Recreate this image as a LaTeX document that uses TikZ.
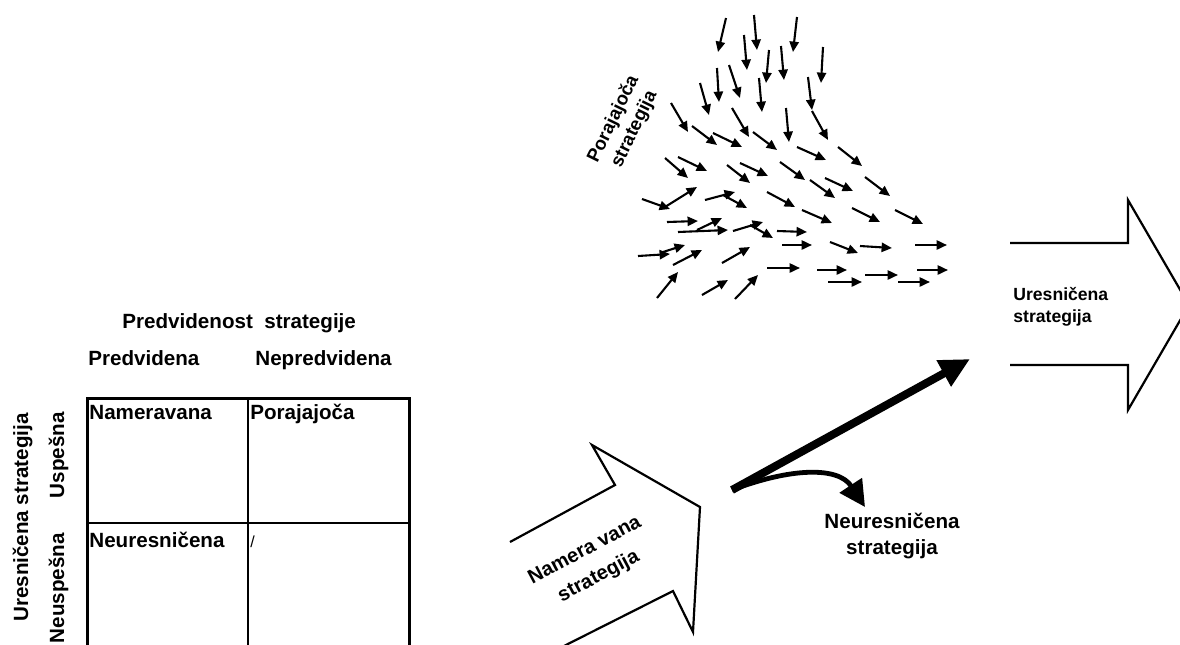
\documentclass[tikz,border=0pt]{standalone}
\usepackage{fontspec}
\setmainfont{Liberation Sans}
\usetikzlibrary{arrows.meta}

\tikzset{
  lbl/.style={font=\fontsize{10.3}{13}\selectfont\bfseries, inner sep=0pt},
  lblsmall/.style={font=\fontsize{8.8}{11}\selectfont\bfseries, inner sep=0pt},
  fieldarrow/.style={line width=1.05pt, -{Triangle[length=5.2pt,width=4.6pt]}},
  blockarrow/.style={line width=1.1pt, line join=miter},
  gridouter/.style={line width=1.5pt},
  gridinner/.style={line width=0.7pt},
  mainflow/.style={line width=4pt, -{Triangle[length=15pt,width=14pt]}},
  sideflow/.style={line width=2.4pt, -{Triangle[length=13pt,width=13pt]}},
}

\begin{document}
\begin{tikzpicture}[x=0.5pt,y=-0.5pt]
\clip (0,0) rectangle (1180,644);
\fill[white] (0,0) rectangle (1180,644);

% ---- 2x2 matrix of strategy types ----
\draw[gridouter] (87,700) -- (87,398) -- (409,398) -- (409,700);
\draw[gridinner] (248,398) -- (248,700);
\draw[gridinner] (87,523) -- (409,523);

\node[lbl, anchor=base west] (colhead) at (122,328) {Predvidenost\ \ strategije};
\node[lbl, anchor=base west] (colA) at (88,365) {Predvidena};
\node[lbl, anchor=base west] (colB) at (255,365) {Nepredvidena};

\node[lbl, anchor=base east, rotate=90] (rowhead) at (28,413) {Uresničena strategija};
\node[lbl, anchor=base east, rotate=90] (rowA) at (64,412) {Uspešna};
\node[lbl, anchor=base east, rotate=90] (rowB) at (64,533) {Neuspešna};

\node[lbl, anchor=base west] (cellAA) at (89,419) {Nameravana};
\node[lbl, anchor=base west] (cellAB) at (250,419) {Porajajoča};
\node[lbl, anchor=base west] (cellBA) at (89,547) {Neuresničena};
\node[font=\fontsize{8}{9}\selectfont, inner sep=0pt, anchor=base west] (cellBB) at (250,547) {/};

% ---- intended strategy block arrow ----
\draw[blockarrow] (510,542) -- (615,485) -- (592,445) -- (700,507)
  -- (693,632) -- (673,591) -- (560,648);
\node[lbl, font=\fontsize{10}{14.8}\selectfont\bfseries, rotate=28, align=center]
  (intended) at (592,564) {Namera vana\\strategija};

% ---- realized strategy block arrow ----
\draw[blockarrow] (1010,243) -- (1128,243) -- (1128,200) -- (1189,305)
  -- (1128,410) -- (1128,365) -- (1010,365);
\node[lblsmall, align=left, anchor=west] (realized) at (1013,307)
  {Uresničena\\strategija};

% ---- split into realized and unrealized paths ----
\coordinate (split) at (732,490);
\coordinate (realtip) at (970,359);
\coordinate (failtip) at (865,507);
\draw[mainflow] (split) -- (realtip);
\draw[sideflow] (split) .. controls (790,468) and (838,466) .. (failtip);
\node[lbl, align=center] (unrealized) at (892,536) {Neuresničena\\strategija};

% ---- emergent strategy: field of small arrows ----
\node[lbl, font=\fontsize{9.3}{11.6}\selectfont\bfseries, rotate=64, align=center]
  (emergent) at (624,124) {Porajajoča\\strategija};

\foreach \xa/\ya/\xb/\yb in {
  726/18/718/52, 754/15/757/50, 797/17/793/52, 744/35/747/70,
  769/50/766/83, 781/46/784/80, 823/47/821/83, 717/68/719/102,
  729/65/740/98, 759/78/762/112, 700/83/709/115, 808/77/812/110,
  786/108/789/142, 812/111/828/140, 671/103/688/132, 732/108/749/137,
  692/126/717/145, 713/133/742/147, 753/132/777/150, 797/147/826/160,
  838/147/862/166, 665/158/688/178, 678/157/707/171, 727/165/750/183,
  740/163/768/176, 780/162/805/180, 810/180/835/198, 825/178/853/191,
  865/177/890/196, 642/199/670/209, 665/207/697/187, 705/200/735/192,
  723/195/747/208, 767/192/795/207, 802/210/832/223, 852/208/880/222,
  895/210/923/224, 667/222/698/221, 678/232/728/230, 697/230/722/218,
  733/231/763/222, 750/225/773/238, 777/231/807/232, 782/245/812/245,
  830/242/858/253, 860/246/892/248, 915/245/947/245, 638/256/670/254,
  663/252/685/245, 673/265/702/250, 722/263/750/247, 767/268/800/268,
  817/270/847/270, 828/282/862/282, 865/275/898/275, 898/282/930/282,
  917/270/948/270, 657/298/678/272, 702/295/728/280, 735/299/758/275}
  \draw[fieldarrow] (\xa,\ya) -- (\xb,\yb);
\end{tikzpicture}
\end{document}
